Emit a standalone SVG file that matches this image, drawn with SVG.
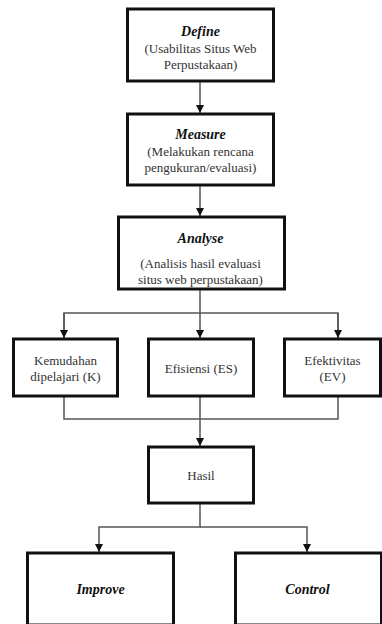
<svg xmlns="http://www.w3.org/2000/svg" width="382" height="624" viewBox="0 0 382 624">
<defs>
<style>
.box{fill:#fff;stroke:#111;stroke-width:3}
.t{font-family:"Liberation Serif","Times New Roman",serif;font-size:13px;fill:#333;text-anchor:middle}
.h{font-family:"Liberation Serif","Times New Roman",serif;font-size:14px;font-weight:bold;font-style:italic;fill:#111;text-anchor:middle}
.c{fill:none;stroke:#555;stroke-width:1.5}
</style>
<marker id="ar" markerWidth="8" markerHeight="8" refX="8" refY="4" orient="auto" markerUnits="userSpaceOnUse">
<path d="M0,0 L8,4 L0,8 Z" fill="#111"/>
</marker>
</defs>
<rect width="382" height="624" fill="#fff"/>
<g id="connectors">
<path class="c" d="M200,82 V113" marker-end="url(#ar)"/>
<path class="c" d="M200,186 V216" marker-end="url(#ar)"/>
<path class="c" d="M200,290 V338" marker-end="url(#ar)"/>
<path class="c" d="M64,338 V313 H338 V338" />
<path class="c" d="M64,313 V338" marker-end="url(#ar)"/>
<path class="c" d="M338,313 V338" marker-end="url(#ar)"/>
<path class="c" d="M64,397 V419 H338 V397"/>
<path class="c" d="M200,397 V446" marker-end="url(#ar)"/>
<path class="c" d="M200,504 V527 H99 V552" marker-end="url(#ar)"/>
<path class="c" d="M200,527 H307 V552" marker-end="url(#ar)"/>
</g>
<g id="define">
<rect class="box" x="127.5" y="9" width="146" height="72"/>
<text class="h" x="200.5" y="36">Define</text>
<text class="t" x="200.5" y="53">(Usabilitas Situs Web</text>
<text class="t" x="200.5" y="69">Perpustakaan)</text>
</g>
<g id="measure">
<rect class="box" x="127.5" y="114" width="146" height="71"/>
<text class="h" x="200.5" y="139">Measure</text>
<text class="t" x="200.5" y="156">(Melakukan rencana</text>
<text class="t" x="200.5" y="172">pengukuran/evaluasi)</text>
</g>
<g id="analyse">
<rect class="box" x="118.5" y="217" width="166" height="72"/>
<text class="h" x="200.5" y="243">Analyse</text>
<text class="t" x="200.5" y="268">(Analisis hasil evaluasi</text>
<text class="t" x="200.5" y="284">situs web perpustakaan)</text>
</g>
<g id="kemudahan">
<rect class="box" x="13.5" y="339" width="104" height="57"/>
<text class="t" x="65.5" y="365">Kemudahan</text>
<text class="t" x="65.5" y="381">dipelajari (K)</text>
</g>
<g id="efisiensi">
<rect class="box" x="148.5" y="339" width="105" height="57"/>
<text class="t" x="201" y="373">Efisiensi (ES)</text>
</g>
<g id="efektivitas">
<rect class="box" x="284.5" y="339" width="96" height="57"/>
<text class="t" x="332.5" y="365">Efektivitas</text>
<text class="t" x="332.5" y="381">(EV)</text>
</g>
<g id="hasil">
<rect class="box" x="148.5" y="447" width="105" height="56"/>
<text class="t" x="201" y="480">Hasil</text>
</g>
<g id="improve">
<rect class="box" x="27.5" y="553" width="146" height="72"/>
<text class="h" x="100.5" y="594">Improve</text>
</g>
<g id="control">
<rect class="box" x="235.5" y="553" width="146" height="72"/>
<text class="h" x="307.5" y="594">Control</text>
</g>
</svg>
